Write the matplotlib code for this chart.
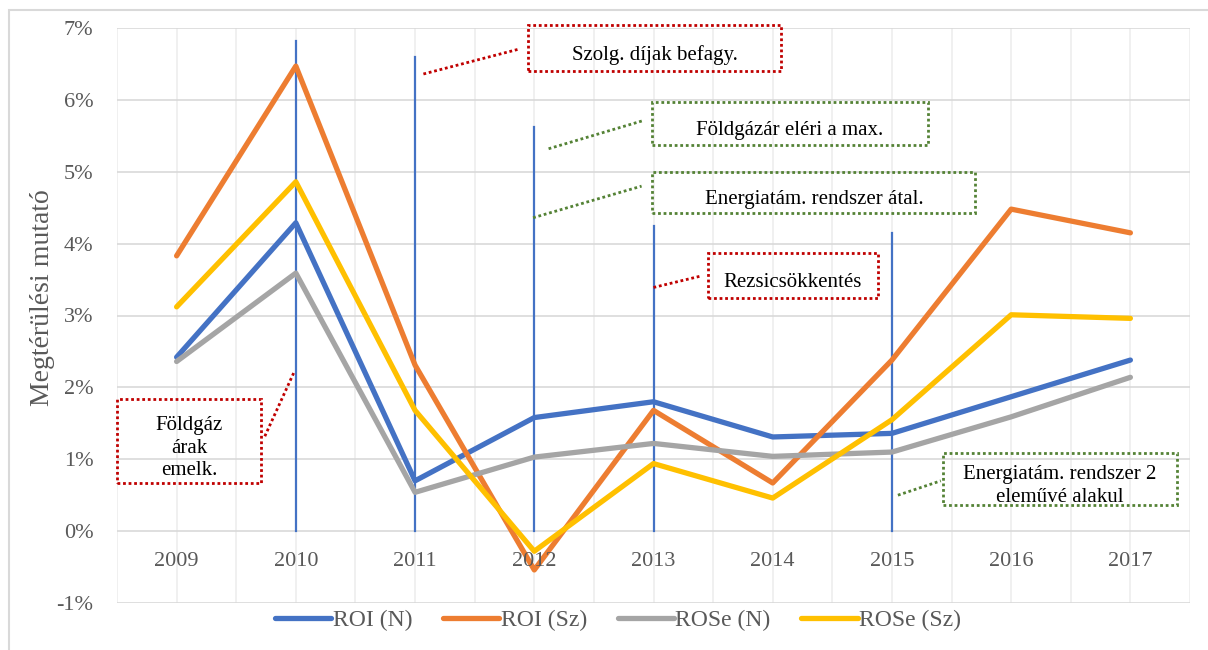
import numpy as np
import matplotlib.pyplot as plt
from matplotlib.patches import Rectangle

plt.rcParams['font.family'] = ['Liberation Serif', 'DejaVu Serif']

years = ['2009', '2010', '2011', '2012', '2013', '2014', '2015', '2016', '2017']
roi_n = [2.42, 4.29, 0.70, 1.58, 1.80, 1.31, 1.36, 1.87, 2.38]
roi_sz = [3.83, 6.47, 2.31, -0.54, 1.68, 0.67, 2.38, 4.48, 4.15]
rose_n = [2.36, 3.59, 0.54, 1.03, 1.22, 1.04, 1.10, 1.59, 2.14]
rose_sz = [3.12, 4.86, 1.68, -0.28, 0.94, 0.46, 1.55, 3.01, 2.96]

# esemenyvonalak: ev indexe, magassag (%)
event_x = [1, 2, 3, 4, 6]
event_top = [6.82, 6.60, 5.62, 4.24, 4.15]

# megjegyzesek: szoveg, doboz (x0, x1, y0, y1) adatkoordinataban, vonal vege, szin
notes = [
    ("Szolg. díjak befagy.", (2.95, 5.07, 6.40, 7.04), (2.07, 6.36), (2.88, 6.71), '#c00000'),
    ("Földgázár eléri a max.", (3.99, 6.30, 5.37, 5.97), (3.12, 5.32), (3.91, 5.71), '#548235'),
    ("Energiatám. rendszer átal.", (3.99, 6.70, 4.43, 5.00), (2.99, 4.36), (3.90, 4.80), '#548235'),
    ("Rezsicsökkentés", (4.46, 5.88, 3.24, 3.87), (4.00, 3.39), (4.40, 3.55), '#c00000'),
    ("Földgáz\nárak\nemelk.", (-0.50, 0.71, 0.67, 1.84), (0.74, 1.32), (0.99, 2.23), '#c00000'),
    ("Energiatám. rendszer 2\neleművé alakul", (6.43, 8.39, 0.36, 1.09), (6.05, 0.50), (6.41, 0.70), '#548235'),
]

fig = plt.figure(figsize=(12.08, 6.5), dpi=100)
ax = fig.add_axes([117 / 1208, 1 - 603 / 650, (1190 - 117) / 1208, (603 - 28) / 650])

fig.patches.append(Rectangle((9 / 1208, -0.1), 1.2, 1.1 - 10 / 650, transform=fig.transFigure,
                             fill=False, edgecolor='#d9d9d9', linewidth=1.5))

x = np.arange(len(years))
ax.set_xlim(-0.5, len(years) - 0.5)
ax.set_ylim(-1, 7)

for v in np.arange(-0.5, len(years), 0.5):
    ax.axvline(v, color='#ededed', linewidth=1.2, zorder=0)
for v in range(-1, 8):
    ax.axhline(v, color='#d9d9d9', linewidth=1.2, zorder=0)

for xi, top in zip(event_x, event_top):
    ax.plot([xi, xi], [0, top], color='#4472c4', linewidth=1.6, zorder=2)

ax.plot(x, roi_n, color='#4472c4', linewidth=3.8, label='ROI (N)', zorder=3, solid_capstyle='round')
ax.plot(x, roi_sz, color='#ed7d31', linewidth=3.8, label='ROI (Sz)', zorder=3, solid_capstyle='round')
ax.plot(x, rose_n, color='#a5a5a5', linewidth=3.8, label='ROSe (N)', zorder=3, solid_capstyle='round')
ax.plot(x, rose_sz, color='#ffc000', linewidth=3.8, label='ROSe (Sz)', zorder=3, solid_capstyle='round')

for text, (x0, x1, y0, y1), p0, p1, c in notes:
    ax.add_patch(Rectangle((x0, y0), x1 - x0, y1 - y0, facecolor='none', edgecolor=c,
                           linewidth=2, linestyle=(0, (1, 1)), zorder=4, clip_on=False))
    ax.plot([p0[0], p1[0]], [p0[1], p1[1]], color=c, linewidth=2, linestyle=(0, (1, 1)), zorder=4)
    ax.text((x0 + x1) / 2, (y0 + y1) / 2 - 0.1, text, ha='center', va='center', fontsize=15,
            color='black', linespacing=1.25, zorder=5)

for xi, lab in zip(x, years):
    ax.text(xi, -0.42, lab, ha='center', va='center', fontsize=16, color='#595959')

ax.set_yticks(range(-1, 8))
ax.set_yticklabels([f'{v}%' for v in range(-1, 8)], fontsize=16, color='#595959')
ax.set_xticks([])
ax.tick_params(axis='y', length=0, pad=17)
for s in ax.spines.values():
    s.set_visible(False)

fig.text(43 / 1208, 1 - 298 / 650, 'Megtérülési mutató', rotation=90, ha='center', va='center',
         fontsize=20, color='#595959')

fig.legend(loc='center', bbox_to_anchor=(618 / 1208, 1 - 620 / 650), ncol=4, frameon=False,
           fontsize=17, handlelength=2.4, handletextpad=0.05, columnspacing=1.3,
           labelcolor='#595959')

fig.savefig('out.png', dpi=100)
